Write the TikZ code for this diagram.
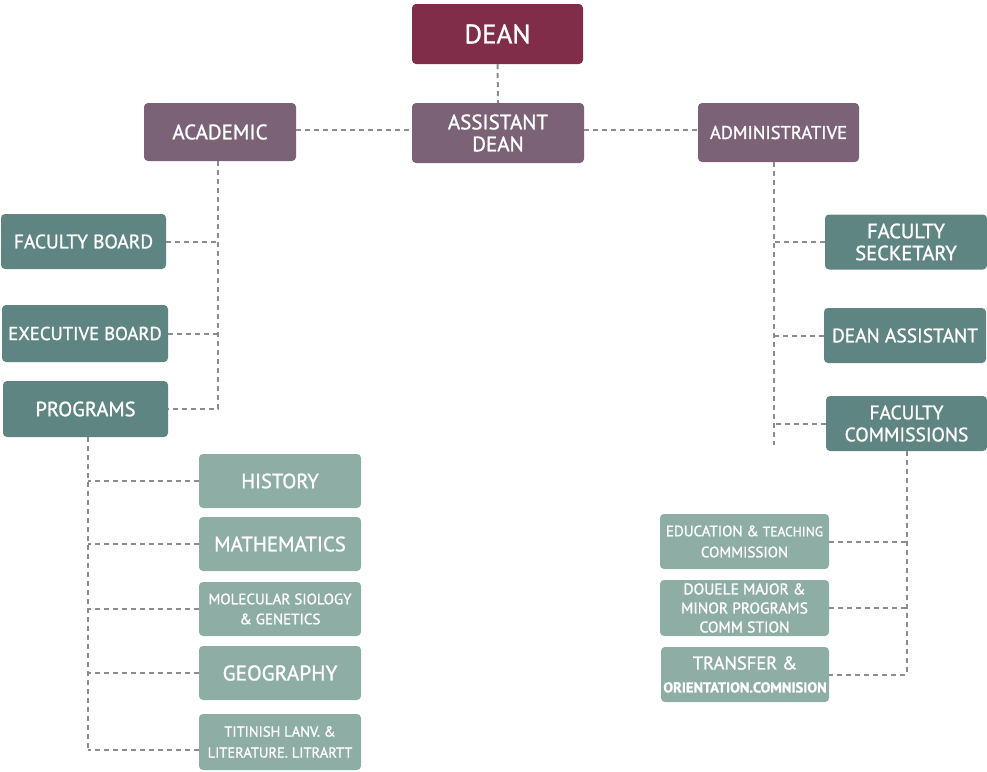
\documentclass[tikz,border=0pt]{standalone}
\usepackage{fontspec}
\setmainfont{PT Sans}[FakeBold=1.2]
\usetikzlibrary{calc}
\definecolor{deanc}{HTML}{7F2D49}
\definecolor{purc}{HTML}{7B6276}
\definecolor{tealc}{HTML}{5F8582}
\definecolor{ltealc}{HTML}{8EADA4}
\definecolor{linec}{HTML}{8C8C8C}
\newcommand{\fsz}[1]{\fontsize{#1}{22}\selectfont}
\tikzset{
  box/.style={rounded corners=4pt, text=white, align=center, inner sep=0pt, font=\fsz{19.5}},
  deanbox/.style={box, fill=deanc, font=\fsz{27}},
  purbox/.style={box, fill=purc},
  tealbox/.style={box, fill=tealc},
  ltbox/.style={box, fill=ltealc},
  conn/.style={draw=linec, line width=2pt, dash pattern=on 5pt off 4pt},
}
\begin{document}
\begin{tikzpicture}[x=1pt,y=-1pt]
\useasboundingbox (0,0) rectangle (987,771);
% top
\node[deanbox, minimum width=171, minimum height=60] (dean) at (497.5,34) {DEAN};
\node[purbox, minimum width=172, minimum height=60, font=\fsz{21}] (asst) at (498,133) {ASSISTANT\\DEAN};
\node[purbox, minimum width=152, minimum height=58, font=\fsz{21}] (acad) at (220,132) {ACADEMIC};
\node[purbox, minimum width=161, minimum height=59, font=\fsz{18.5}] (admin) at (778.5,132.5) {ADMINISTRATIVE};
% left
\node[tealbox, minimum width=165, minimum height=55] (fb) at (83.5,241.5) {FACULTY BOARD};
\node[tealbox, minimum width=166, minimum height=57, font=\fsz{18.7}] (eb) at (85,333.5) {EXECUTIVE BOARD};
\node[tealbox, minimum width=165, minimum height=56, font=\fsz{20.5}] (prog) at (85.5,409) {PROGRAMS};
% right
\node[tealbox, minimum width=162, minimum height=55, font=\fsz{20.5}] (fs) at (906,242) {FACULTY\\SECKETARY};
\node[tealbox, minimum width=162, minimum height=55, font=\fsz{19.5}] (da) at (905,335.5) {DEAN ASSISTANT};
\node[tealbox, minimum width=161, minimum height=55, font=\fsz{19.5}] (fc) at (906.5,423.5) {FACULTY\\COMMISSIONS};
% programs
\node[ltbox, minimum width=162, minimum height=54, font=\fsz{20.5}] (hist) at (280,481) {HISTORY};
\node[ltbox, minimum width=162, minimum height=54, font=\fsz{20.8}] (math) at (280,544) {MATHEMATICS};
\node[ltbox, minimum width=162, minimum height=54, font=\fontsize{15}{20}\selectfont] (mol) at (280,609) {MOLECULAR SIOLOGY\\\& GENETICS};
\node[ltbox, minimum width=162, minimum height=54, font=\fsz{21.3}] (geo) at (280,673) {GEOGRAPHY};
\node[ltbox, minimum width=162, minimum height=56, font=\fontsize{14.5}{21}\selectfont] (tit) at (280,742) {TITINISH LANV. \&\\LITERATURE. LITRARTT};
% commissions
\node[ltbox, minimum width=169, minimum height=55, font=\fontsize{15}{21}\selectfont] (edu) at (744.5,541.5) {EDUCATION \& {\fontsize{13.5}{21}\selectfont TEACHING}\\COMMISSION};
\node[ltbox, minimum width=169, minimum height=56, font=\fontsize{15.5}{19}\selectfont] (dou) at (744.5,608) {DOUELE MAJOR \&\\MINOR PROGRAMS\\COMM STION};
\node[ltbox, minimum width=168, minimum height=55, font=\fontsize{18.5}{23}\selectfont] (tra) at (745,674.5) {TRANSFER \&\\{\bfseries\fontsize{14.5}{23}\selectfont ORIENTATION.COMNISION}};
% coordinates
\coordinate (aend) at ($(admin.south)+(-5,283)$);
\coordinate (acx) at ($(acad.south)+(-2,0)$);
\coordinate (adx) at ($(admin.south)+(-5,0)$);
\coordinate (pend) at ($(prog.south)+(2,313)$);
\coordinate (px) at ($(prog.south)+(2,0)$);
\coordinate (tb) at ($(tit.west)+(0,8)$);
\coordinate (al) at ($(acad.east)+(0,-2)$);
\coordinate (ar) at ($(admin.west)+(0,-3)$);
% connectors
\draw[conn] (dean.south) -- (asst.north);
\draw[conn] (al) -- (al -| asst.west);
\draw[conn] (ar -| asst.east) -- (ar);
\draw[conn] (acx) -- (acx |- prog.east) -- (prog.east);
\draw[conn] (fb.east) -- (fb.east -| acx);
\draw[conn] (eb.east) -- (eb.east -| acx);
\draw[conn] (adx) -- (aend);
\draw[conn] (fs.west) -- (fs.west -| adx);
\draw[conn] (da.west) -- (da.west -| adx);
\draw[conn] (fc.west) -- (fc.west -| adx);
\draw[conn] (px) -- (pend);
\draw[conn] (hist.west) -- (hist.west -| px);
\draw[conn] (math.west) -- (math.west -| px);
\draw[conn] (mol.west) -- (mol.west -| px);
\draw[conn] (geo.west) -- (geo.west -| px);
\draw[conn] (tb) -- (tb -| px);
\draw[conn] (fc.south) -- (fc.south |- tra.east) -- (tra.east);
\draw[conn] (edu.east) -- (edu.east -| fc.south);
\draw[conn] (dou.east) -- (dou.east -| fc.south);
\end{tikzpicture}
\end{document}
